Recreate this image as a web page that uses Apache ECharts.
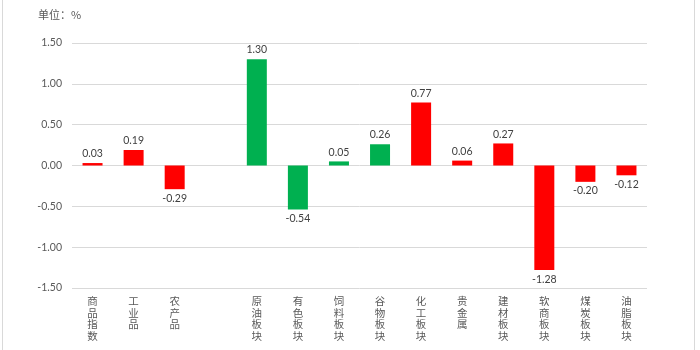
<!DOCTYPE html>
<html><head><meta charset="utf-8">
<script src="https://cdn.jsdelivr.net/npm/echarts@6/dist/echarts.min.js"></script>
<style>html,body{margin:0;padding:0;background:#fff}#c{width:700px;height:350px}</style>
</head><body><div id="c"></div>
<script>
const categories = ['商品指数','工业品','农产品','','原油板块','有色板块','饲料板块','谷物板块','化工板块','贵金属','建材板块','软商板块','煤炭板块','油脂板块'];
const values = [0.03, 0.19, -0.29, null, 1.30, -0.54, 0.05, 0.26, 0.77, 0.06, 0.27, -1.28, -0.20, -0.12];
const yTicks = [-1.5, -1.0, -0.5, 0, 0.5, 1.0, 1.5];
const unitText = '单位：%';

const greenCats = ['原油板块','有色板块','饲料板块','谷物板块'];
const RED = '#FF0000', GREEN = '#00B050';
const numFont = 'Lato, "Noto Sans CJK SC", sans-serif';
const cjkFont = '"Noto Sans CJK SC", sans-serif';

const seriesData = categories.map((c, i) => {
  const v = values[i];
  if (v === null) return '-';
  return {
    value: v,
    itemStyle: { color: greenCats.includes(c) ? GREEN : RED },
    label: { position: v >= 0 ? 'top' : 'bottom' }
  };
});

const chart = echarts.init(document.getElementById('c'), null, {renderer: 'canvas'});
chart.setOption({
  animation: false,
  backgroundColor: '#fff',
  title: { text: unitText, left: 33, top: 4,
    textStyle: { fontSize: 11, fontWeight: 'normal', color: '#595959', fontFamily: cjkFont } },
  grid: { left: 72, right: 53, top: 43, bottom: 62 },
  xAxis: {
    type: 'category', data: categories,
    axisLine: { show: false, onZero: false },
    axisTick: { show: false },
    axisLabel: {
      interval: 0, margin: 7, color: '#595959', fontSize: 10.5, lineHeight: 11.7,
      fontFamily: cjkFont, verticalAlign: 'top',
      formatter: v => v.split('').join('\n')
    }
  },
  yAxis: {
    type: 'value', min: yTicks[0], max: yTicks[yTicks.length-1], interval: 0.5,
    axisLine: { show: false }, axisTick: { show: false },
    splitLine: { lineStyle: { color: '#D9D9D9', width: 1 } },
    axisLabel: { margin: 10, color: '#595959', fontSize: 10.5, fontFamily: numFont,
      formatter: v => v.toFixed(2) }
  },
  series: [{
    type: 'bar', data: seriesData, barWidth: 20,
    label: { show: true, color: '#404040', fontSize: 10.5, distance: 4, fontFamily: numFont,
      formatter: p => Number(p.value).toFixed(2) }
  }],
  graphic: [{
    type: 'rect', shape: { x: 2.5, y: -2, width: 692, height: 360 },
    style: { fill: 'none', stroke: '#D9D9D9', lineWidth: 1 }, silent: true
  }]
});
</script></body></html>
